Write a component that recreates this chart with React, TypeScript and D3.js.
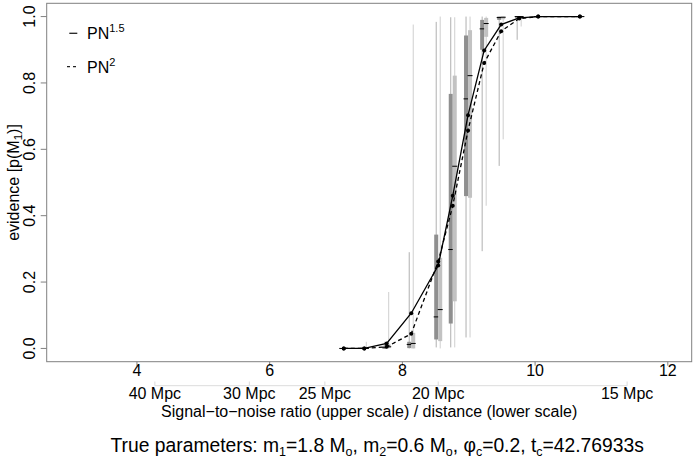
import React from "react";
import * as d3 from "d3";

// distances (Mpc) of the simulated injections, left to right on the plot
const distances = [24, 23, 22, 21, 20, 19.5, 19, 18.5, 18, 17.5, 17, 16];
const snrTimesMpc = 170.8; // SNR = snrTimesMpc / distance

// mean evidence p(M1) per distance
const evidencePN15 = [0.0, 0.0, 0.015, 0.106, 0.25, 0.46, 0.703, 0.898, 0.976, 0.996, 1.0, 1.0];
const evidencePN2 = [0.0, 0.0, 0.005, 0.044, 0.262, 0.43, 0.657, 0.86, 0.956, 0.994, 1.0, 1.0];

// box summaries [low whisker, q1, median, q3, high whisker]
const boxPN15 = [
  [0, 0, 0, 0, 0],
  [0, 0, 0, 0, 0.005],
  [0, 0, 0.002, 0.008, 0.02],
  [0, 0.001, 0.012, 0.02, 0.29],
  [0.003, 0.027, 0.095, 0.343, 0.984],
  [0.003, 0.075, 0.298, 0.767, 0.998],
  [0.033, 0.459, 0.752, 0.943, 1.0],
  [0.293, 0.9, 0.963, 0.99, 1.0],
  [0.55, 0.99, 0.997, 1.0, 1.0],
  [0.93, 0.995, 1.0, 1.0, 1.0],
  [1.0, 1.0, 1.0, 1.0, 1.0],
  [1.0, 1.0, 1.0, 1.0, 1.0],
];
const boxPN2 = [
  [0, 0, 0, 0, 0],
  [0, 0, 0, 0, 0.02],
  [0, 0.001, 0.005, 0.012, 0.17],
  [0, 0, 0.015, 0.047, 0.976],
  [0, 0.022, 0.117, 0.273, 1.0],
  [0.003, 0.142, 0.549, 0.822, 0.998],
  [0.033, 0.454, 0.822, 0.959, 1.0],
  [0.43, 0.939, 0.979, 0.996, 1.0],
  [0.63, 0.992, 0.998, 1.0, 1.0],
  [0.97, 0.996, 1.0, 1.0, 1.0],
  [1.0, 1.0, 1.0, 1.0, 1.0],
  [1.0, 1.0, 1.0, 1.0, 1.0],
];

const snrTicks = [4, 6, 8, 10, 12];
const distanceTicks = [40, 30, 25, 20, 15];
const evidenceTicks = [0, 0.2, 0.4, 0.6, 0.8, 1.0];

const font = "'Liberation Sans', Arial, Helvetica, sans-serif";

export default function App() {
  const width = 695;
  const height = 463;
  const left = 46.7;
  const right = 691.7;
  const top = 3.3;
  const bottom = 361.7;

  // R style 4% padding around xlim = c(3, 12), ylim = c(0, 1)
  const x = d3.scaleLinear().domain([2.64, 12.36]).range([left, right]);
  const y = d3.scaleLinear().domain([-0.04, 1.04]).range([bottom, top]);

  const snr = distances.map((d) => snrTimesMpc / d);

  const line = d3
    .line<number>()
    .x((_, i) => x(snr[i]))
    .y((v) => y(v));

  const boxes = (data: number[][], offset: number, fill: string, whisker: string, key: string) =>
    data.map((b, i) => {
      const cx = x(snr[i]);
      const x0 = cx + offset;
      const w = 4;
      return (
        <g key={key + i}>
          <line x1={x0 + w / 2} x2={x0 + w / 2} y1={y(b[0])} y2={y(b[4])} stroke={whisker} strokeWidth={1} />
          <rect x={x0} y={y(b[3])} width={w} height={Math.max(0.6, y(b[1]) - y(b[3]))} fill={fill} />
          <line x1={x0 - 0.5} x2={x0 + w + 0.5} y1={y(b[2])} y2={y(b[2])} stroke="#000" strokeWidth={1} />
        </g>
      );
    });

  return (
    <>
      <style>{`body{margin:0}`}</style>
      <svg width={width} height={height} style={{ display: "block", fontFamily: font }}>
        {/* boxes */}
        {boxes(boxPN15, -4, "#8f8f8f", "#b0b0b0", "a")}
        {boxes(boxPN2, 0, "#c2c2c2", "#cfcfcf", "b")}

        {/* evidence curves */}
        <path d={line(evidencePN2) || ""} fill="none" stroke="#000" strokeWidth={1.3} strokeDasharray="4,3" />
        <path d={line(evidencePN15) || ""} fill="none" stroke="#000" strokeWidth={1.3} />
        {evidencePN2.map((v, i) => (
          <circle key={"p2" + i} cx={x(snr[i])} cy={y(v)} r={2} fill="#000" />
        ))}
        {evidencePN15.map((v, i) => (
          <circle key={"p1" + i} cx={x(snr[i])} cy={y(v)} r={2} fill="#000" />
        ))}

        {/* frame */}
        <rect x={left} y={top} width={right - left} height={bottom - top} fill="none" stroke="#808080" strokeWidth={1} />

        {/* y axis */}
        {evidenceTicks.map((t) => (
          <g key={"y" + t}>
            <line x1={left - 6} x2={left} y1={y(t)} y2={y(t)} stroke="#808080" />
            <text
              transform={`translate(35,${y(t)}) rotate(-90)`}
              textAnchor="middle"
              fontSize={16}
              fill="#000"
            >
              {t.toFixed(1)}
            </text>
          </g>
        ))}
        <text transform={`translate(19,${(top + bottom) / 2}) rotate(-90)`} textAnchor="middle" fontSize={16}>
          evidence [p(M<tspan fontSize={11.5} dy={3}>1</tspan>
          <tspan dy={-3}>)]</tspan>
        </text>

        {/* SNR axis */}
        {snrTicks.map((t) => (
          <g key={"x" + t}>
            <line x1={x(t)} x2={x(t)} y1={bottom} y2={bottom + 4} stroke="#808080" />
            <text x={x(t)} y={376} textAnchor="middle" fontSize={16}>
              {t}
            </text>
          </g>
        ))}

        {/* distance axis */}
        <line
          x1={x(snrTimesMpc / distanceTicks[0])}
          x2={x(snrTimesMpc / distanceTicks[distanceTicks.length - 1])}
          y1={385.7}
          y2={385.7}
          stroke="#dcdcdc"
        />
        {distanceTicks.map((d) => (
          <g key={"d" + d}>
            <line x1={x(snrTimesMpc / d)} x2={x(snrTimesMpc / d)} y1={381.5} y2={385.7} stroke="#dcdcdc" />
            <text x={x(snrTimesMpc / d)} y={399} textAnchor="middle" fontSize={16}>
              {d} Mpc
            </text>
          </g>
        ))}

        <text x={(left + right) / 2} y={417} textAnchor="middle" fontSize={16}>
          Signal−to−noise ratio (upper scale) / distance (lower scale)
        </text>

        <text x={(left + right) / 2 + 8} y={452} textAnchor="middle" fontSize={19.3}>
          True parameters: m<tspan fontSize={12.5} dy={4}>1</tspan>
          <tspan dy={-4}>=1.8 M</tspan>
          <tspan fontSize={12.5} dy={4}>o</tspan>
          <tspan dy={-4}>, m</tspan>
          <tspan fontSize={12.5} dy={4}>2</tspan>
          <tspan dy={-4}>=0.6 M</tspan>
          <tspan fontSize={12.5} dy={4}>o</tspan>
          <tspan dy={-4}>, φ</tspan>
          <tspan fontSize={12.5} dy={4}>c</tspan>
          <tspan dy={-4}>=0.2, t</tspan>
          <tspan fontSize={12.5} dy={4}>c</tspan>
          <tspan dy={-4}>=42.76933s</tspan>
        </text>

        {/* legend */}
        <line x1={69.3} x2={77.3} y1={33.3} y2={33.3} stroke="#222" strokeWidth={1.3} />
        <text x={87} y={39} fontSize={16}>
          PN<tspan fontSize={11} dy={-7}>1.5</tspan>
        </text>
        <line x1={67} x2={78} y1={66.7} y2={66.7} stroke="#222" strokeWidth={1.3} strokeDasharray="3,3" />
        <text x={87} y={72.5} fontSize={16}>
          PN<tspan fontSize={11} dy={-7}>2</tspan>
        </text>
      </svg>
    </>
  );
}
